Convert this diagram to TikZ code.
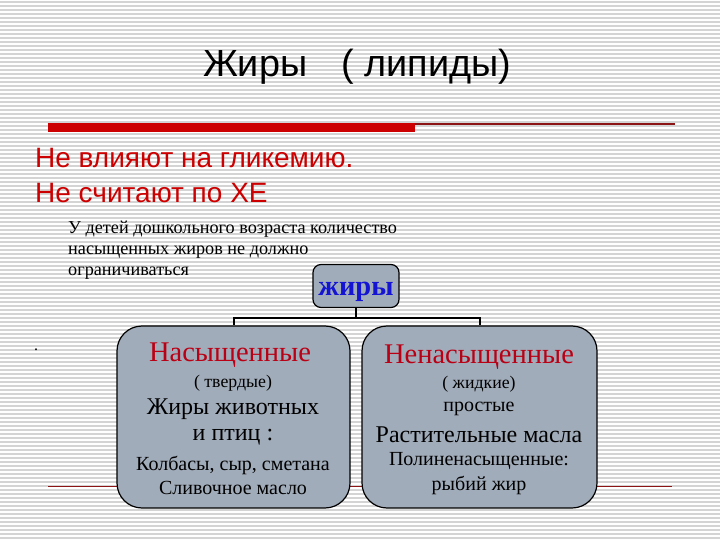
\documentclass[tikz,border=0pt]{standalone}
\usepackage{fontspec}
\setmainfont{Liberation Serif}
\newfontfamily\arialfont{Liberation Sans}
\usepackage{tikz}

\definecolor{boxgray}{RGB}{161,172,186}
\definecolor{slidered}{RGB}{204,0,0}
\definecolor{darkred}{RGB}{140,20,20}
\definecolor{headred}{RGB}{185,0,20}
\definecolor{fatblue}{RGB}{20,20,210}

\tikzset{
    stripe/.style={draw=black!17,line width=1.1pt},
    group/.style={shape=rectangle,draw=black,line width=1.2pt,fill=boxgray,rounded corners=25pt},
    link/.style={draw=black,line width=2pt},
    head/.style={text=headred,font=\fontsize{28.5}{32}\selectfont,inner sep=0pt},
    small/.style={font=\fontsize{17.8}{20}\selectfont,inner sep=0pt},
    mid/.style={font=\fontsize{24}{28}\selectfont,inner sep=0pt},
    line/.style={font=\fontsize{20}{24}\selectfont,inner sep=0pt}
}

\begin{document}
\begin{tikzpicture}[x=1pt,y=-1pt]
    \useasboundingbox (0,0) rectangle (720,540);
    % striped background
    \fill[white] (0,0) rectangle (720,540);
    \foreach \y in {2,6,...,538}
        \draw[stripe] (0,\y) -- (720,\y);

    \node[font=\arialfont\fontsize{37.8}{42}\selectfont,inner sep=0pt] (title) at (357,67) {Жиры\hspace{0.9em}( липиды)};
    \fill[slidered] (48,123) rectangle (415,132);
    \draw[darkred,line width=1.2pt] (415,124) -- (675,124);
    \draw[darkred,line width=1pt] (48,486) -- (672,486);

    \node[anchor=west,text=slidered,font=\arialfont\fontsize{28}{32}\selectfont,inner sep=0pt] (nogly) at (35,158) {Не влияют на гликемию.};
    \node[anchor=west,text=slidered,font=\arialfont\fontsize{28}{32}\selectfont,inner sep=0pt] (noxe) at (35,193) {Не считают по ХЕ};
    \node[anchor=west,align=left,font=\fontsize{18.2}{21}\selectfont,inner sep=0pt] (note) at (68,250) {У детей дошкольного возраста количество\\насыщенных жиров не должно\\ограничиваться};
    \node[inner sep=0pt,font=\fontsize{16}{18}\selectfont] (dot) at (36,350) {.};

    \node[group,rounded corners=8pt,minimum width=86pt,minimum height=43pt,text height=19pt,text depth=0pt,text=fatblue,font=\bfseries\fontsize{28.5}{32}\selectfont] (fats) at (356,286) {жиры};
    \node[group,minimum width=233pt,minimum height=182pt] (sat) at (233.5,417) {};
    \node[group,minimum width=235pt,minimum height=182pt] (unsat) at (479.5,417) {};

    \draw[link] (fats.south) -- ++(0,10) -| (sat.north);
    \draw[link] (fats.south) -- ++(0,10) -| (unsat.north);

    % left box
    \node[head] (sathead) at (230,355) {Насыщенные};
    \node[small] (hard) at (233,383) {( твердые)};
    \node[mid] (animal) at (233,409) {Жиры животных};
    \node[mid] (birds) at (233,437) {и птиц :};
    \node[line] (sausage) at (233,465) {Колбасы, сыр, сметана};
    \node[line] (butter) at (233,488) {Сливочное масло};

    % right box
    \node[head] (unsathead) at (479,357) {Ненасыщенные};
    \node[small] (liquid) at (479,384) {( жидкие)};
    \node[line] (simple) at (479,409) {простые};
    \node[mid] (plant) at (479,435) {Растительные масла};
    \node[line] (poly) at (479,461) {Полиненасыщенные:};
    \node[line] (fish) at (479,485) {рыбий жир};
\end{tikzpicture}
\end{document}
